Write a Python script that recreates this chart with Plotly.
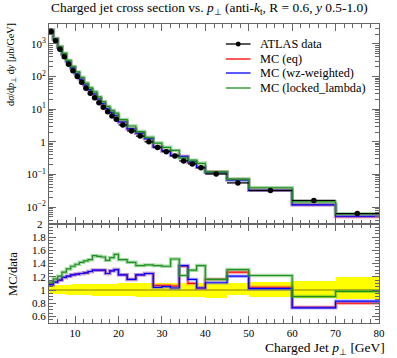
import plotly.graph_objects as go

# ---------------- data ----------------
bin_edges = [4, 5, 6, 7, 8, 9, 10, 11, 12, 13, 14, 15, 16, 17, 18, 19, 20,
             22, 24, 26, 28, 30, 32, 34, 36, 38, 40, 45, 50, 60, 70, 80]

atlas_data = [2380, 1260, 690, 408, 238, 151, 100, 67, 44, 31, 22.6, 15.8, 11.4,
              8.4, 6.2, 4.9, 3.3, 2.15, 1.5, 1.0, 0.67, 0.50, 0.37, 0.26, 0.21,
              0.16, 0.103, 0.055, 0.032, 0.016, 0.0063]

ratio_eq = [1.08, 1.12, 1.15, 1.19, 1.21, 1.23, 1.24, 1.25, 1.26, 1.28, 1.30, 1.30,
            1.30, 1.25, 1.29, 1.31, 1.23, 1.16, 1.23, 1.25, 1.07, 1.07, 1.06, 1.36,
            1.10, 1.03, 1.16, 1.27, 1.04, 0.74, 0.80]
ratio_wz = [1.08, 1.12, 1.15, 1.19, 1.21, 1.23, 1.24, 1.25, 1.26, 1.28, 1.30, 1.30,
            1.30, 1.25, 1.29, 1.31, 1.23, 1.16, 1.23, 1.25, 1.04, 1.05, 1.03, 1.37,
            1.16, 1.03, 1.11, 1.21, 1.02, 0.73, 0.83]
ratio_locked = [1.12, 1.17, 1.21, 1.27, 1.32, 1.36, 1.39, 1.42, 1.44, 1.46, 1.52, 1.51,
                1.50, 1.45, 1.49, 1.54, 1.46, 1.42, 1.37, 1.38, 1.37, 1.36, 1.47, 1.22,
                1.30, 1.37, 1.16, 1.31, 1.22, 0.90, 0.98]

band_hi = [0.07, 0.07, 0.075, 0.08, 0.08, 0.085, 0.085, 0.09, 0.09, 0.09, 0.095, 0.095,
           0.095, 0.095, 0.095, 0.095, 0.10, 0.10, 0.105, 0.105, 0.11, 0.11, 0.11, 0.11,
           0.11, 0.11, 0.10, 0.105, 0.115, 0.13, 0.19]
band_lo = [0.05, 0.055, 0.06, 0.065, 0.07, 0.07, 0.075, 0.075, 0.08, 0.08, 0.085, 0.085,
           0.085, 0.09, 0.09, 0.09, 0.095, 0.095, 0.10, 0.10, 0.10, 0.10, 0.10, 0.10,
           0.10, 0.10, 0.115, 0.08, 0.11, 0.12, 0.14]

series_names = ["MC (eq)", "MC (wz-weighted)", "MC (locked_lambda)"]
series_colors = ["#ff0000", "#0000ff", "#1f8f1f"]
series_halo = ["rgba(255,80,80,0.45)", "rgba(90,90,255,0.45)", "rgba(60,170,60,0.45)"]
series_ratios = [ratio_eq, ratio_wz, ratio_locked]

y_tickvals = [1e-2, 1e-1, 1, 10, 100, 1000]
y_ticktext = ["10<sup>−2</sup>", "10<sup>−1</sup>", "1", "10<sup>1</sup>",
              "10<sup>2</sup>", "10<sup>3</sup>"]
r_tickvals = [0.6, 0.8, 1.0, 1.2, 1.4, 1.6, 1.8, 2.0]
r_ticktext = ["0.6", "0.8", "1", "1.2", "1.4", "1.6", "1.8", "2"]
x_tickvals = [10, 20, 30, 40, 50, 60, 70, 80]

FONT = "Liberation Serif"
FRAME = "#666666"

W, H = 397, 358
ML, MR, MT, MB = 49, 14, 24, 35
PW, PH = W - ML - MR, H - MT - MB  # 334 x 299


def px(xpage):
    return (xpage - ML) / PW


def py(ypage):
    return (H - MB - ypage) / PH


# ---------------- derived ----------------
centers = [(a + b) / 2 for a, b in zip(bin_edges[:-1], bin_edges[1:])]
halfw = [(b - a) / 2 for a, b in zip(bin_edges[:-1], bin_edges[1:])]
widths = [(b - a) for a, b in zip(bin_edges[:-1], bin_edges[1:])]

fig = go.Figure()

# ratio band
fig.add_trace(go.Bar(x=centers, y=[h + l for h, l in zip(band_hi, band_lo)],
                     base=[1 - l for l in band_lo], width=widths,
                     marker=dict(color="#ffff00", line=dict(width=0)),
                     xaxis="x2", yaxis="y2", showlegend=False, hoverinfo="skip"))
fig.add_trace(go.Scatter(x=[bin_edges[0], bin_edges[-1]], y=[1, 1], mode="lines",
                         line=dict(color="rgba(0,0,0,0.5)", width=1),
                         xaxis="x2", yaxis="y2", showlegend=False))

for name, col, halo, rat in zip(series_names, series_colors, series_halo, series_ratios):
    mc = [d * r for d, r in zip(atlas_data, rat)]
    for (vals, xa, ya) in [(mc, "x", "y"), (rat, "x2", "y2")]:
        yy = list(vals) + [vals[-1]]
        fig.add_trace(go.Scatter(x=bin_edges, y=yy, mode="lines", line_shape="hv",
                                 line=dict(color=halo, width=3.5), xaxis=xa, yaxis=ya,
                                 showlegend=False, hoverinfo="skip"))
        fig.add_trace(go.Scatter(x=bin_edges, y=yy, mode="lines", line_shape="hv",
                                 line=dict(color=col, width=1.2), xaxis=xa, yaxis=ya,
                                 name=name, showlegend=False))

# data points
fig.add_trace(go.Scatter(x=centers, y=atlas_data, mode="markers",
                         marker=dict(color="black", size=5.5),
                         error_x=dict(type="data", array=halfw, color="black",
                                      thickness=1.3, width=0),
                         xaxis="x", yaxis="y", name="ATLAS data", showlegend=False))

axis_common = dict(showline=True, linecolor=FRAME, linewidth=1, mirror="ticks",
                   ticks="inside", tickcolor=FRAME, showgrid=False, zeroline=False,
                   tickfont=dict(family=FONT, size=11, color="black"))

split = 99 / 299
fig.update_layout(
    width=W, height=H,
    margin=dict(l=ML, r=MR, t=MT, b=MB),
    paper_bgcolor="white", plot_bgcolor="white",
    showlegend=False, bargap=0,
    xaxis=dict(range=[4, 80], domain=[0, 1], anchor="y", tickvals=x_tickvals,
               showticklabels=False, ticklen=7,
               minor=dict(dtick=2, tick0=0, ticks="inside", ticklen=4, tickcolor=FRAME),
               **axis_common),
    yaxis=dict(type="log", range=[-2.52, 3.613], domain=[split, 1], anchor="x",
               tickvals=y_tickvals, ticktext=y_ticktext, ticklen=7,
               minor=dict(ticks="inside", ticklen=4, tickcolor=FRAME, dtick="D1"),
               **axis_common),
    xaxis2=dict(range=[4, 80], domain=[0, 1], anchor="y2", tickvals=x_tickvals,
                ticklen=7,
                minor=dict(dtick=2, tick0=0, ticks="inside", ticklen=4, tickcolor=FRAME),
                **axis_common),
    yaxis2=dict(range=[0.5, 2.0], domain=[0, split], anchor="x2",
                tickvals=r_tickvals, ticktext=r_ticktext[:-1] + [""], ticklen=7,
                minor=dict(dtick=0.05, tick0=0, ticks="inside", ticklen=4, tickcolor=FRAME),
                **axis_common),
)

ann = []
# top label of the ratio axis (at the panel junction)
ann.append(dict(text=r_ticktext[-1], xref="paper", yref="y2", x=px(45), y=r_tickvals[-1],
                xanchor="right", yanchor="middle", showarrow=False,
                font=dict(family=FONT, size=11, color="black")))
ann.append(dict(text="Charged jet cross section vs. <i>p</i><sub>⊥</sub> (anti-<i>k</i><sub>t</sub>, R = 0.6, <i>y</i> 0.5-1.0)",
                xref="paper", yref="paper", x=0, y=py(19), xanchor="left", yanchor="bottom",
                showarrow=False, font=dict(family=FONT, size=13.4, color="black")))
ann.append(dict(text="d<i>σ</i>/d<i>p</i><sub>⊥</sub> d<i>y</i> [<i>μ</i>b/GeV]",
                xref="paper", yref="paper", x=px(11), y=py(21), xanchor="center",
                yanchor="top", textangle=-90, showarrow=False,
                font=dict(family=FONT, size=10.2, color="black")))
ann.append(dict(text="MC/data", xref="paper", yref="paper", x=px(12),
                y=split / 2, xanchor="center", yanchor="middle", textangle=-90,
                showarrow=False, font=dict(family=FONT, size=12.5, color="black")))
ann.append(dict(text="Charged Jet <i>p</i><sub>⊥</sub> [GeV]", xref="paper", yref="paper",
                x=px(391), y=py(338), xanchor="right", yanchor="top",
                showarrow=False, font=dict(family=FONT, size=13.5, color="black")))

# manual legend
leg_y = [44, 59, 73, 88]
leg_names = ["ATLAS data"] + series_names
leg_cols = ["black"] + series_colors
shapes = []
for yy, nm, c in zip(leg_y, leg_names, leg_cols):
    shapes.append(dict(type="line", xref="paper", yref="paper",
                       x0=px(228), x1=px(253), y0=py(yy), y1=py(yy),
                       line=dict(color=c, width=1.3)))
    ann.append(dict(text=nm, xref="paper", yref="paper", x=px(261), y=py(yy),
                    xanchor="left", yanchor="middle", showarrow=False,
                    font=dict(family=FONT, size=12.3, color="black")))
shapes.append(dict(type="circle", xref="paper", yref="paper",
                   x0=px(238), x1=px(243), y0=py(leg_y[0] + 2.5), y1=py(leg_y[0] - 2.5),
                   fillcolor="black", line=dict(color="black", width=0)))

fig.update_layout(annotations=ann, shapes=shapes)
fig.write_html("out.html", config={"displayModeBar": False},
               post_script="document.body.style.margin='0';document.body.style.overflow='hidden';")
